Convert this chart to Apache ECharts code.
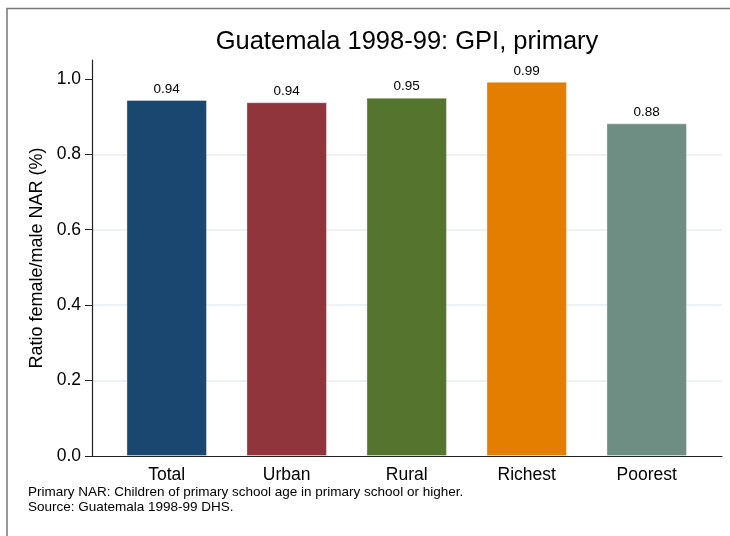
<!DOCTYPE html>
<html>
<head>
<meta charset="utf-8">
<script src="https://cdn.jsdelivr.net/npm/echarts@6/dist/echarts.min.js"></script>
<style>
  html, body { margin: 0; padding: 0; background: #fff; }
  #chart { width: 730px; height: 536px; }
</style>
</head>
<body>
<div id="chart"></div>
<script>
const categories = ['Total', 'Urban', 'Rural', 'Richest', 'Poorest'];
const values = [0.944, 0.938, 0.95, 0.992, 0.882];
const barColors = ['#1a476f', '#90353b', '#55752f', '#e37e00', '#6e8e84'];
const yTicks = [0, 0.2, 0.4, 0.6, 0.8, 1.0];
const titleText = 'Guatemala 1998-99: GPI, primary';
const yAxisTitle = 'Ratio female/male NAR (%)';
const noteLines = [
  'Primary NAR: Children of primary school age in primary school or higher.',
  'Source: Guatemala 1998-99 DHS.'
];

const FONT = '"Liberation Sans", Arial, Helvetica, sans-serif';
const chart = echarts.init(document.getElementById('chart'), null, { renderer: 'canvas' });

const option = {
  backgroundColor: '#ffffff',
  animation: false,
  textStyle: { fontFamily: FONT },
  grid: [
    { left: 92, right: 8, top: 60, bottom: 80, containLabel: false },
    { left: 106.7, right: 23.3, top: 60, bottom: 80, containLabel: false }
  ],
  xAxis: [
    {
      gridIndex: 0, type: 'value', min: 0, max: 1,
      axisLine: { show: true, onZero: false, lineStyle: { color: '#222', width: 1.2 } },
      axisTick: { show: false }, axisLabel: { show: false }, splitLine: { show: false }
    },
    {
      gridIndex: 1, type: 'category', data: categories,
      axisLine: { show: false }, axisTick: { show: false }, splitLine: { show: false },
      axisLabel: { color: '#000', fontSize: 17.5, fontFamily: FONT, margin: 10 }
    }
  ],
  yAxis: [
    {
      gridIndex: 0, type: 'value', min: 0, max: 1.05,
      name: yAxisTitle, nameLocation: 'middle', nameGap: 46, nameRotate: 90,
      nameTextStyle: { color: '#000', fontSize: 18, fontFamily: FONT },
      axisLine: { show: true, lineStyle: { color: '#222', width: 1.2 } },
      axisTick: { show: true, length: 7, customValues: yTicks, lineStyle: { color: '#222', width: 1 } },
      axisLabel: {
        show: true, customValues: yTicks, margin: 11, color: '#000', fontSize: 17.5, fontFamily: FONT,
        formatter: v => Number(v).toFixed(1)
      },
      splitLine: { show: true, showMinLine: false, showMaxLine: false, lineStyle: { color: '#e6eef2', width: 1.5 } }
    },
    {
      gridIndex: 1, type: 'value', min: 0, max: 1.05, show: false,
      splitLine: { show: false }
    }
  ],
  series: [
    {
      type: 'bar', xAxisIndex: 1, yAxisIndex: 1,
      barWidth: 80.5,
      data: values.map((v, i) => ({
        value: v,
        itemStyle: { color: barColors[i], borderColor: 'rgba(255,255,255,0.35)', borderWidth: 1 }
      })),
      label: {
        show: true, position: 'top', distance: 4,
        color: '#000', fontSize: 13.5, fontFamily: FONT,
        formatter: p => Number(p.value).toFixed(2)
      }
    }
  ],
  graphic: [
    {
      type: 'rect', silent: true, z: -1,
      shape: { x: 7, y: 8.5, width: 800, height: 600 },
      style: { fill: 'none', stroke: '#777', lineWidth: 1.5 }
    },
    {
      type: 'text', x: 407, y: 42,
      style: { text: titleText, fill: '#000', font: '25.5px ' + FONT, align: 'center', verticalAlign: 'middle' }
    },
    {
      type: 'text', x: 28, y: 492.5,
      style: { text: noteLines[0], fill: '#000', font: '13.5px ' + FONT, align: 'left', verticalAlign: 'middle' }
    },
    {
      type: 'text', x: 28, y: 507,
      style: { text: noteLines[1], fill: '#000', font: '13.5px ' + FONT, align: 'left', verticalAlign: 'middle' }
    }
  ]
};
chart.setOption(option);
</script>
</body>
</html>
